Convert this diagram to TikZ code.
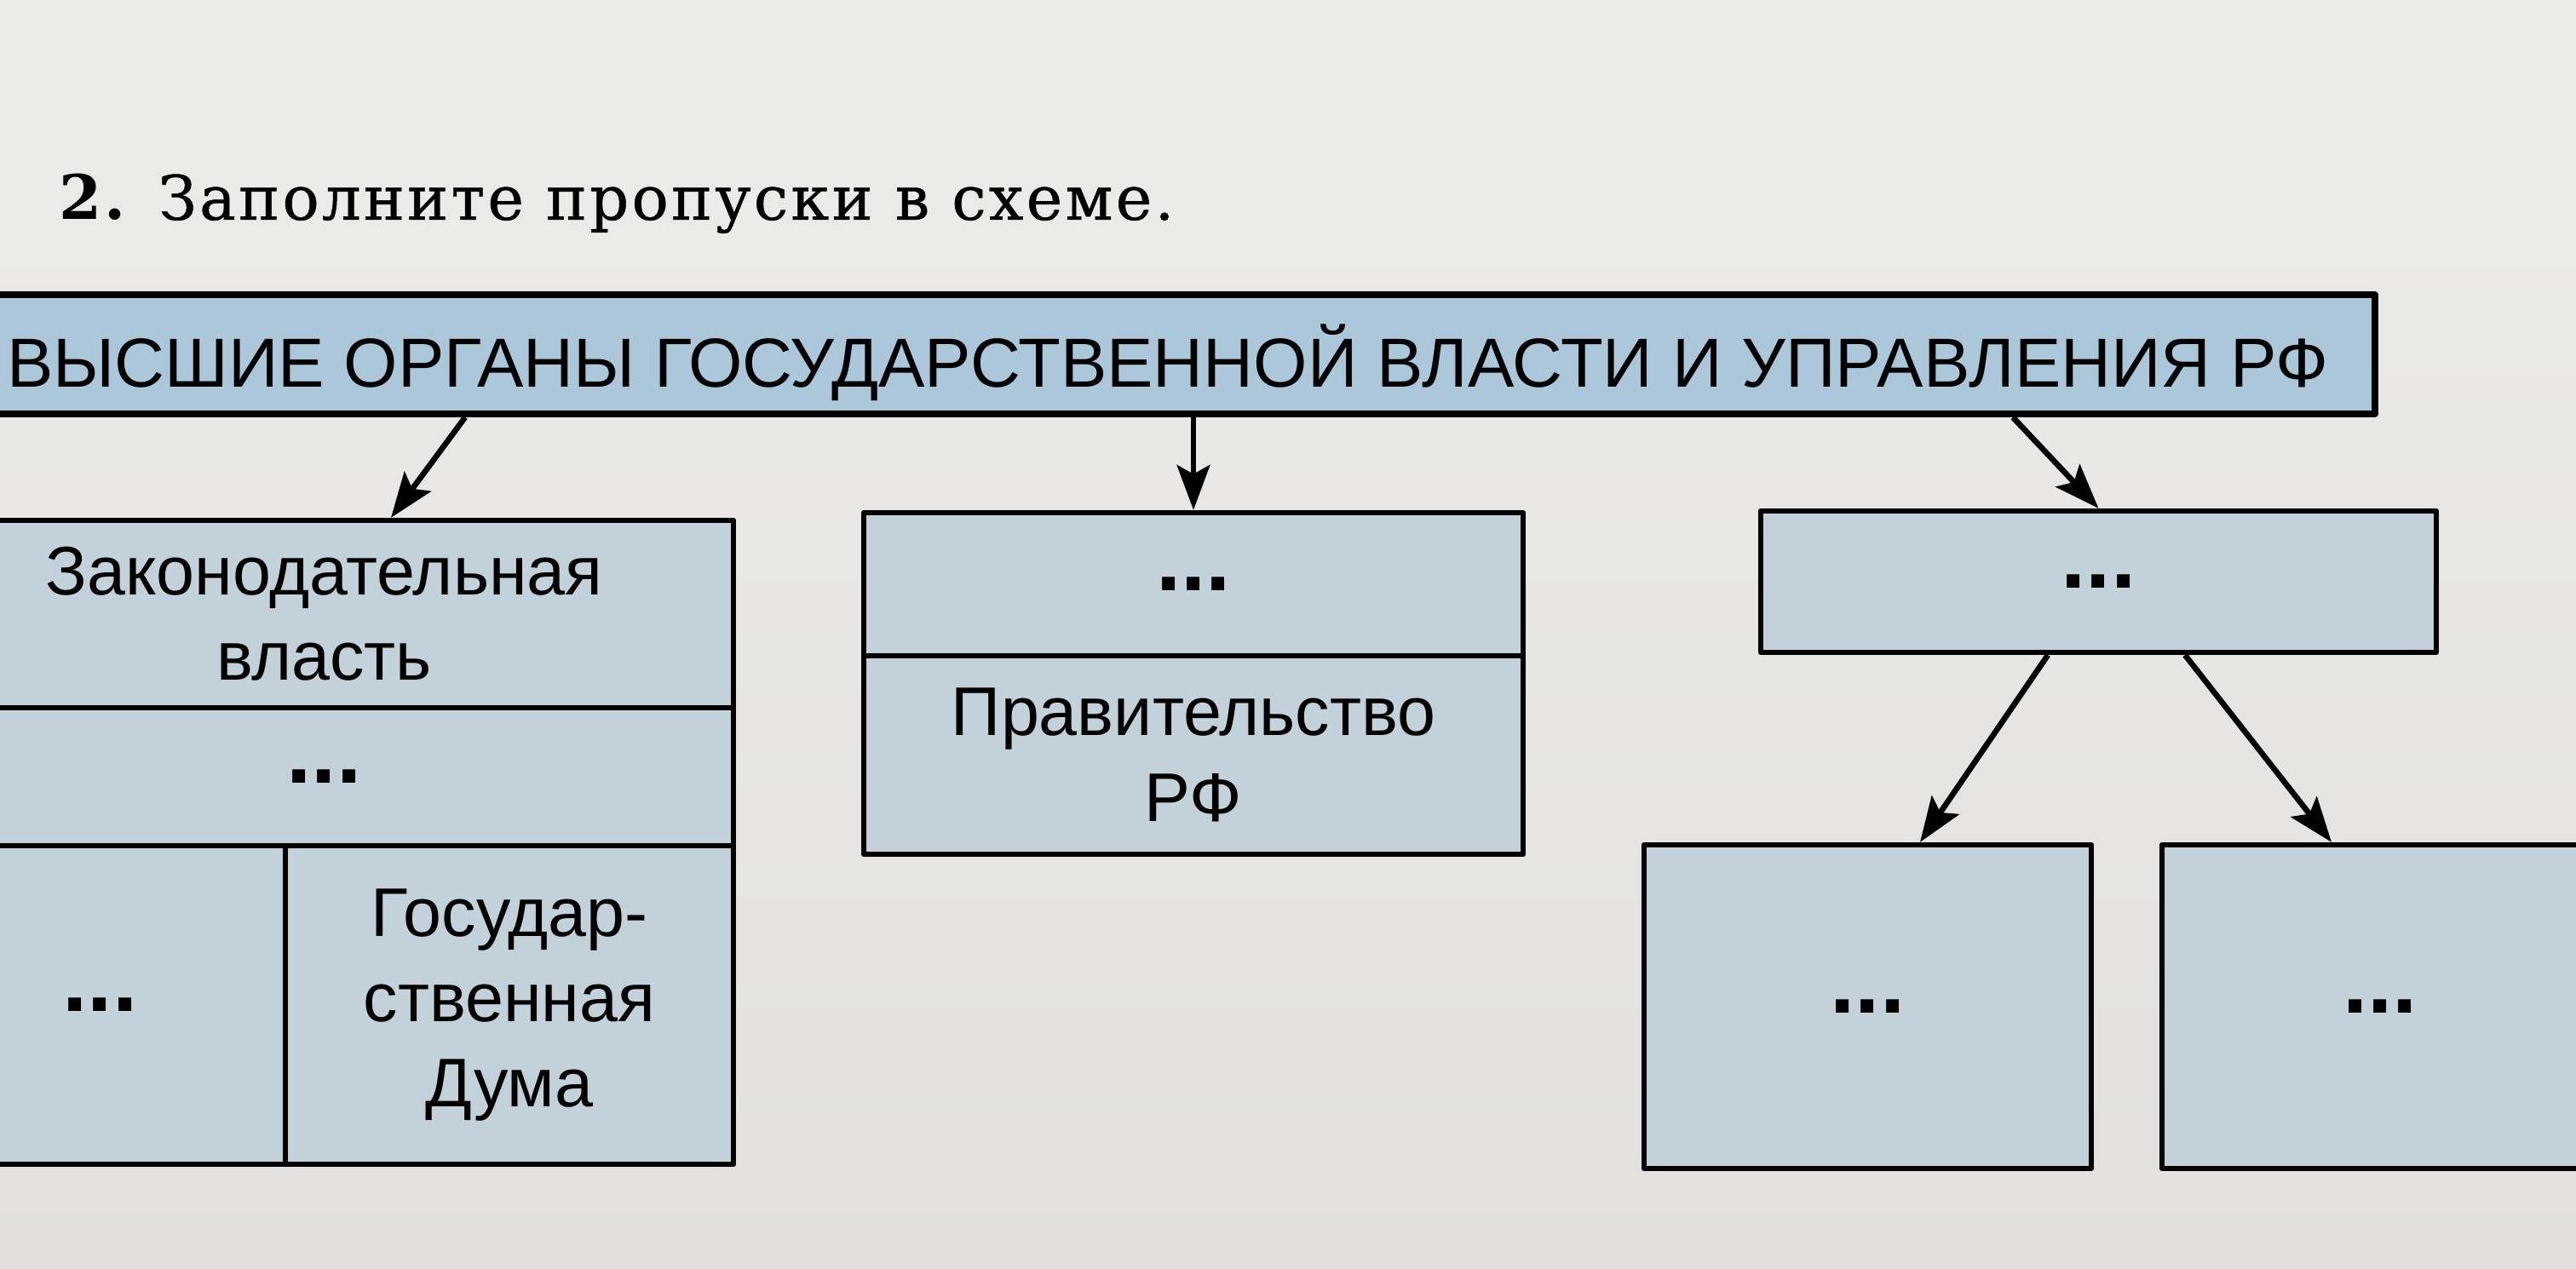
\documentclass[tikz,border=0pt]{standalone}
\usepackage{fontspec}
\setmainfont{Liberation Sans}
\newfontfamily\titlefont[LetterSpace=4.4]{DejaVu Serif}
\usetikzlibrary{arrows.meta}
\definecolor{paper}{RGB}{225,224,222}
\definecolor{paperlight}{RGB}{236,236,235}
\definecolor{bannerblue}{RGB}{172,199,218}
\definecolor{boxblue}{RGB}{195,209,219}
\begin{document}
\begin{tikzpicture}[line join=round, >={Stealth[length=15pt,width=11pt,inset=3pt]},
	cell/.style={draw, line width=1.8pt, fill=boxblue, inner sep=0pt, align=center, font=\fontsize{23}{28.5}\selectfont},
	dots/.style={font=\fontsize{30}{30}\selectfont\bfseries},
	link/.style={->, line width=1.9pt}]
	\useasboundingbox (0,0) rectangle (30.24,14.90);
	\clip (0,0) rectangle (30.24,14.90);
	\shade[top color=paperlight, bottom color=paper] (0,0) rectangle (30.24,14.90);
	
	\node[anchor=base west, inner sep=0pt, font=\titlefont\fontsize{20.5}{24}\selectfont] (title) at (0.69,12.32)
	{\textbf{2.} {\addfontfeature{FakeBold=0.6}Заполните пропуски в схеме.}};
	
	\node[draw, line width=2.3pt, fill=bannerblue, inner sep=0pt, minimum width=28.34cm, minimum height=1.40cm,
	text height=22pt, text depth=0pt, font=\fontsize{23.2}{28}\selectfont] (banner) at (13.71,10.74)
	{ВЫСШИЕ ОРГАНЫ ГОСУДАРСТВЕННОЙ ВЛАСТИ И УПРАВЛЕНИЯ РФ};
	
	% left block
	\node[cell, minimum width=9.61cm, minimum height=2.20cm] (zak) at (3.805,7.69) {Законодательная\\власть};
	\node[cell, minimum width=9.61cm, minimum height=1.62cm, dots] (zakdots) at (3.805,5.78) {...};
	\node[cell, minimum width=4.35cm, minimum height=3.74cm, dots] (upper) at (1.175,3.10) {...};
	\node[cell, minimum width=5.26cm, minimum height=3.74cm] (duma) at (5.98,3.10) {Государ-\\ственная\\Дума};
	
	% middle block
	\node[cell, minimum width=7.74cm, minimum height=1.68cm, dots] (execdots) at (14.01,8.04) {...};
	\node[cell, minimum width=7.74cm, minimum height=2.33cm] (gov) at (14.01,6.035) {Правительство\\РФ};
	
	% right block
	\node[cell, minimum width=7.93cm, minimum height=1.66cm, dots] (judic) at (24.635,8.07) {...};
	\node[cell, minimum width=5.25cm, minimum height=3.80cm, dots] (courtA) at (21.925,3.08) {...};
	\node[cell, minimum width=5.12cm, minimum height=3.80cm, dots] (courtB) at (27.94,3.08) {...};
	
	\draw[link] ([xshift=-8.25cm]banner.south) -- ([xshift=0.785cm]zak.north);
	\draw[link] (banner.south -| execdots.north) -- (execdots.north);
	\draw[link] ([xshift=9.92cm]banner.south) -- (judic.north);
	\draw[link] ([xshift=-0.595cm]judic.south) -- ([xshift=0.615cm]courtA.north);
	\draw[link] ([xshift=1.015cm]judic.south) -- ([xshift=-0.57cm]courtB.north);
\end{tikzpicture}
\end{document}
